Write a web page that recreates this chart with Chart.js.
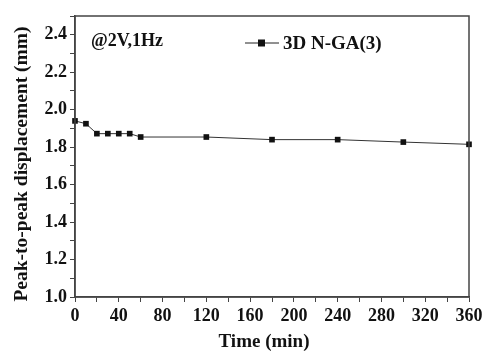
<!DOCTYPE html>
<html><head><meta charset="utf-8">
<script src="https://cdn.jsdelivr.net/npm/chart.js@4/dist/chart.umd.min.js"></script>
<style>html,body{margin:0;padding:0;background:#fff}#w{width:500px;height:358px}</style>
</head><body><div id="w"><canvas id="c" width="500" height="358"></canvas></div>
<script>
const timeMin = [0, 10, 20, 30, 40, 50, 60, 120, 180, 240, 300, 360];
const displacement = [1.94, 1.925, 1.872, 1.872, 1.872, 1.872, 1.854, 1.854, 1.84, 1.84, 1.827, 1.815];
const seriesLabel = '3D N-GA(3)';
const annotationText = '@2V,1Hz';
const xTitle = 'Time (min)';
const yTitle = 'Peak-to-peak displacement (mm)';

const FONT = '"Liberation Serif", "Times New Roman", serif';
const INK = '#111';

const framePlugin = {
  id: 'frame',
  afterDraw(chart) {
    const {ctx, chartArea: a} = chart;
    ctx.save();
    ctx.strokeStyle = '#444';
    ctx.lineWidth = 1.5;
    ctx.strokeRect(a.left, a.top, a.right - a.left, a.bottom - a.top);
    ctx.fillStyle = INK;
    ctx.textBaseline = 'middle';
    // axis titles
    ctx.font = 'bold 19px ' + FONT;
    ctx.textAlign = 'center';
    ctx.fillText(xTitle, 264, 342);
    ctx.save();
    ctx.translate(22, 164);
    ctx.rotate(-Math.PI / 2);
    ctx.font = 'bold 19.5px ' + FONT;
    ctx.fillText(yTitle, 0, 0);
    ctx.restore();
    // annotation
    ctx.textAlign = 'left';
    ctx.font = 'bold 18px ' + FONT;
    ctx.fillText(annotationText, a.left + 16, 41);
    // legend
    const ly = 43;
    ctx.strokeStyle = '#222';
    ctx.lineWidth = 1;
    ctx.beginPath(); ctx.moveTo(245, ly); ctx.lineTo(279, ly); ctx.stroke();
    ctx.fillStyle = '#111';
    ctx.fillRect(258, ly - 3.5, 7, 7);
    ctx.fillStyle = INK;
    ctx.font = 'bold 19px ' + FONT;
    ctx.fillText(chart.data.datasets[0].label, 283, ly + 1);
    ctx.restore();
  }
};

new Chart(document.getElementById('c'), {
  type: 'scatter',
  data: {
    datasets: [{
      label: seriesLabel,
      data: timeMin.map((t, i) => ({x: t, y: displacement[i]})),
      showLine: true,
      borderColor: '#333',
      borderWidth: 1,
      backgroundColor: '#111',
      pointStyle: 'rect',
      pointRadius: 4,
      pointBorderWidth: 0,
      clip: false
    }]
  },
  options: {
    responsive: false,
    animation: false,
    layout: {padding: {top: 16, right: 31, left: 0, bottom: 0}},
    plugins: {legend: {display: false}, tooltip: {enabled: false}},
    scales: {
      x: {
        type: 'linear', min: 0, max: 360,
        afterFit(s) { s.height = 61; },
        border: {display: true, color: '#444', width: 1.5},
        grid: {drawOnChartArea: false, drawTicks: true, tickLength: 5, color: '#444'},
        ticks: {stepSize: 20, autoSkip: false, maxRotation: 0, padding: 4, color: INK,
          font: {family: FONT, size: 18, weight: 'bold'},
          callback: v => (Math.round(v) % 40 === 0 ? String(Math.round(v)) : '')}
      },
      y: {
        type: 'linear', min: 1.0, max: 2.5,
        afterFit(s) { s.width = 75; },
        border: {display: true, color: '#444', width: 1.5},
        grid: {drawOnChartArea: false, drawTicks: true, tickLength: 5, color: '#444'},
        ticks: {stepSize: 0.1, autoSkip: false, padding: 3, color: INK,
          font: {family: FONT, size: 18, weight: 'bold'},
          callback: v => { const k = Math.round(v * 10); return k % 2 === 0 ? (k / 10).toFixed(1) : ''; }}
      }
    }
  },
  plugins: [framePlugin]
});
</script></body></html>
